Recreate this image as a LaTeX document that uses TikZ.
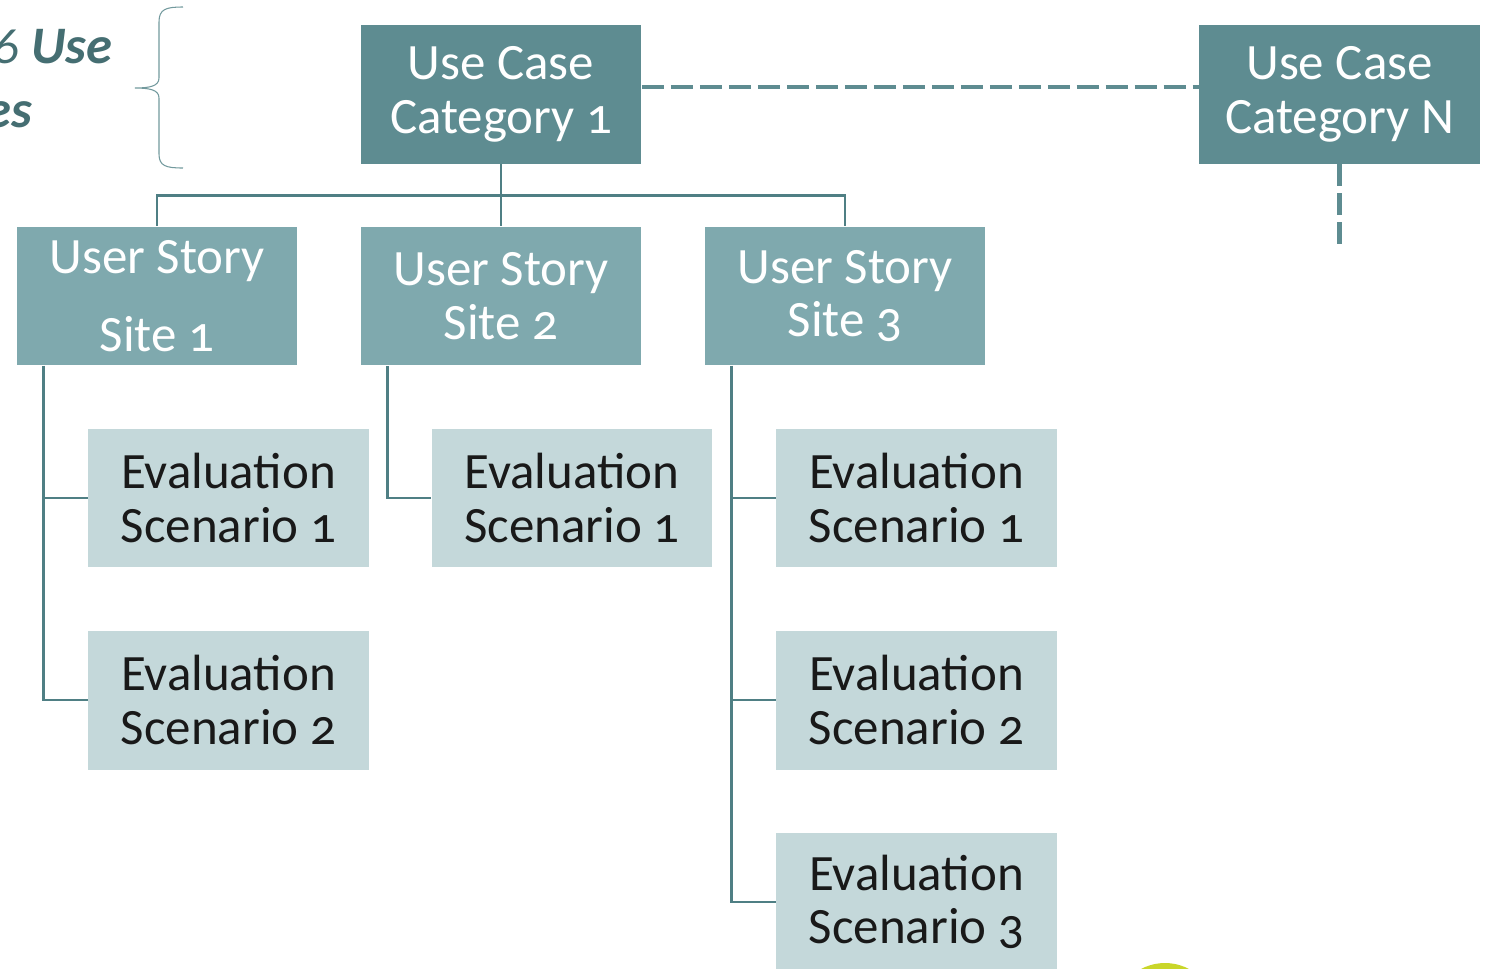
\documentclass[tikz,border=0pt]{standalone}
\usepackage{fontspec}
\setmainfont{Carlito}[Numbers=OldStyle]
\usetikzlibrary{positioning}

\definecolor{darkteal}{HTML}{5E8C91}
\definecolor{midteal}{HTML}{7FA9AE}
\definecolor{paleteal}{HTML}{C4D8DA}
\definecolor{linkteal}{HTML}{4F7F84}
\definecolor{titleteal}{HTML}{456E72}
\definecolor{limegreen}{HTML}{C9D62A}

\tikzset{
  box/.style={rectangle,minimum width=5.62cm,minimum height=2.78cm,
    align=center,inner sep=0pt,font=\fontsize{29}{30.5}\selectfont},
  category/.style={box,fill=darkteal,text=white},
  story/.style={box,fill=midteal,text=white},
  scenario/.style={box,fill=paleteal,text=black!90},
  link/.style={draw=linkteal,line width=1.6pt},
  dashlink/.style={draw=darkteal,line width=2.8pt,dash pattern=on 0.44cm off 0.14cm}
}

\begin{document}
\begin{tikzpicture}[x=0.02cm,y=-0.02cm]

        \useasboundingbox (0,0) rectangle (1485,968);
        \clip (0,0) rectangle (1485,968);

        % title on the left, cut by the page edge
        \node[anchor=base east,text=titleteal,inner sep=0pt,
              font=\fontsize{30}{36}\selectfont] (title1) at (113,63)
              {\textit{6} \textbf{\textit{Use}}};
        \node[anchor=base east,text=titleteal,inner sep=0pt,
              font=\fontsize{30}{36}\selectfont] (title2) at (33,127)
              {\textbf{\textit{es}}};
        \draw[draw=linkteal!80,line width=0.6pt]
              (183,7) .. controls (166,7) and (159,9) .. (159,22)
              -- (159,78) .. controls (159,86) and (150,88) .. (135,88)
              .. controls (150,88) and (159,90) .. (159,98)
              -- (159,154) .. controls (159,166) and (166,168) .. (183,168);

        \begin{scope}[every node/.style={category}]
          \node (uc1) at (501,94.5)  {Use Case\\Category 1};
          \node (ucn) at (1339.5,94.5) {Use Case\\Category N};
        \end{scope}

        \begin{scope}[every node/.style={story}]
          \node (us1) at (157,296) {User Story\\[0.5cm]Site 1};
          \node (us2) at (501,296) {User Story\\Site 2};
          \node (us3) at (845,296) {User Story\\Site 3};
        \end{scope}

        \begin{scope}[every node/.style={scenario}]
          \node (es11) at (228.5,498) {Evaluation\\Scenario 1};
          \node (es12) at (228.5,700) {Evaluation\\Scenario 2};
          \node (es21) at (572,498)   {Evaluation\\Scenario 1};
          \node (es31) at (916.5,498) {Evaluation\\Scenario 1};
          \node (es32) at (916.5,700) {Evaluation\\Scenario 2};
          \node (es33) at (916.5,902) {Evaluation\\Scenario 3};
        \end{scope}

        \coordinate (more) at ([yshift=-1.62cm]ucn.south);

        % category to stories
        \path[link] (uc1.south) -- ++(0,31) -| (us1.north);
        \path[link] (uc1.south) -- (us2.north);
        \path[link] (uc1.south) -- ++(0,31) -| (us3.north);

        % stories to scenarios
        \path[link] ([xshift=0.54cm]us1.south west) |- (es11.west);
        \path[link] ([xshift=0.54cm]us1.south west) |- (es12.west);
        \path[link] ([xshift=0.54cm]us2.south west) |- (es21.west);
        \path[link] ([xshift=0.54cm]us3.south west) |- (es31.west);
        \path[link] ([xshift=0.54cm]us3.south west) |- (es32.west);
        \path[link] ([xshift=0.54cm]us3.south west) |- (es33.west);

        % more categories
        \path[dashlink] ([yshift=0.15cm]uc1.east) -- ([yshift=0.15cm]ucn.west);
        \path[dashlink] (ucn.south) -- (more);

        \fill[limegreen] (1165,1014) circle (51);

      \end{tikzpicture}
\end{document}
